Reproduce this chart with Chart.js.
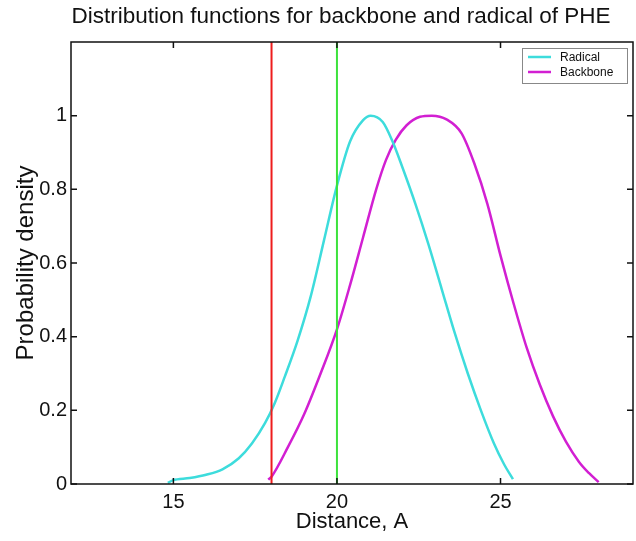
<!DOCTYPE html>
<html>
<head>
<meta charset="utf-8">
<script src="https://cdn.jsdelivr.net/npm/chart.js@4.4.0/dist/chart.umd.min.js"></script>
<style>
  html, body { margin: 0; padding: 0; background: #fff; }
  #chart { display: block; }
</style>
</head>
<body>
<canvas id="chart" width="636" height="541"></canvas>
<script>
// Chart data
const radicalX = [14.83, 14.98, 15.5, 16.0, 16.5, 17.0, 17.4, 17.8, 18.1, 18.4, 18.8, 19.2, 19.6, 20.0, 20.4, 20.8, 21.03, 21.4, 21.7, 22.0, 22.4, 22.8, 23.2, 23.6, 24.0, 24.4, 24.8, 25.1, 25.38];
const radicalY = [0.003, 0.01, 0.016, 0.025, 0.04, 0.07, 0.11, 0.165, 0.22, 0.29, 0.39, 0.51, 0.66, 0.81, 0.93, 0.988, 1.0, 0.983, 0.93, 0.86, 0.76, 0.65, 0.53, 0.41, 0.3, 0.2, 0.11, 0.055, 0.013];
const backboneX = [17.9, 18.0, 18.5, 19.0, 19.5, 20.0, 20.4, 20.8, 21.2, 21.5, 21.8, 22.13, 22.54, 22.9, 23.35, 23.81, 24.2, 24.6, 25.0, 25.4, 25.8, 26.2, 26.6, 27.0, 27.4, 27.7, 28.0];
const backboneY = [0.012, 0.02, 0.1, 0.19, 0.3, 0.42, 0.54, 0.67, 0.8, 0.88, 0.935, 0.974, 0.997, 1.0, 0.99, 0.952, 0.87, 0.76, 0.62, 0.49, 0.37, 0.27, 0.185, 0.115, 0.06, 0.03, 0.005];
const redLineX = 18;
const greenLineX = 20;
const xTicks = [15, 20, 25];
const yTicks = [0, 0.2, 0.4, 0.6, 0.8, 1];
const seriesNames = ["Radical", "Backbone"];

const toPoints = (xs, ys) => xs.map((x, i) => ({ x: x, y: ys[i] }));
const vLine = x => [{ x: x, y: 0 }, { x: x, y: 1.2 }];

const FONT = "'Liberation Sans', Arial, Helvetica, sans-serif";

// Matlab-ish frame with inward ticks on all four sides
const framePlugin = {
    id: "frame",
    afterDatasetsDraw(chart) {
        const { ctx, chartArea: a, scales } = chart;
        ctx.save();
        ctx.strokeStyle = "#111";
        ctx.lineWidth = 1.5;
        ctx.strokeRect(a.left, a.top, a.right - a.left, a.bottom - a.top);
        ctx.beginPath();
        xTicks.forEach(v => {
            const px = scales.x.getPixelForValue(v);
            ctx.moveTo(px, a.bottom); ctx.lineTo(px, a.bottom - 6);
            ctx.moveTo(px, a.top); ctx.lineTo(px, a.top + 6);
        });
        yTicks.forEach(v => {
            const py = scales.y.getPixelForValue(v);
            ctx.moveTo(a.left, py); ctx.lineTo(a.left + 6, py);
            ctx.moveTo(a.right, py); ctx.lineTo(a.right - 6, py);
        });
        ctx.stroke();
        ctx.restore();
    }
};

// Title and the small boxed legend in the top right corner
const labelsPlugin = {
    id: "labels",
    afterDraw(chart) {
        const { ctx } = chart;
        ctx.save();
        ctx.fillStyle = "#111";
        ctx.font = "22.5px " + FONT;
        ctx.textAlign = "center";
        ctx.textBaseline = "middle";
        ctx.fillText("Distribution functions for backbone and radical of PHE", 341, 17);

        const bx = 522, by = 48, bw = 105, bh = 35;
        ctx.fillStyle = "#fff";
        ctx.fillRect(bx, by, bw, bh);
        ctx.strokeStyle = "#888";
        ctx.lineWidth = 1;
        ctx.strokeRect(bx + 0.5, by + 0.5, bw, bh);
        ctx.font = "12px " + FONT;
        ctx.textAlign = "left";
        seriesNames.forEach((name, i) => {
            const ds = chart.data.datasets[i];
            const y = by + 9 + i * 15;
            ctx.strokeStyle = ds.borderColor;
            ctx.lineWidth = 2.5;
            ctx.beginPath();
            ctx.moveTo(bx + 6, y); ctx.lineTo(bx + 29, y);
            ctx.stroke();
            ctx.fillStyle = "#111";
            ctx.fillText(name, bx + 38, y + 1);
        });
        ctx.restore();
    }
};

const chart = new Chart(document.getElementById("chart"), {
    type: "line",
    data: {
        datasets: [
            { label: seriesNames[0], data: toPoints(radicalX, radicalY), borderColor: "#3ddcdc", borderWidth: 2.5, cubicInterpolationMode: "monotone", pointRadius: 0, order: 2 },
            { label: seriesNames[1], data: toPoints(backboneX, backboneY), borderColor: "#d21fd2", borderWidth: 2.5, cubicInterpolationMode: "monotone", pointRadius: 0, order: 2 },
            { label: "red", data: vLine(redLineX), borderColor: "#ee1c1c", borderWidth: 2, pointRadius: 0, order: 1 },
            { label: "green", data: vLine(greenLineX), borderColor: "#3ce23c", borderWidth: 2, pointRadius: 0, order: 1 }
        ]
    },
    options: {
        responsive: false,
        animation: false,
        layout: { padding: { top: 42, right: 3, left: 0, bottom: 0 } },
        plugins: { legend: { display: false }, tooltip: { enabled: false }, title: { display: false } },
        scales: {
            x: {
                type: "linear",
                min: 11.87,
                max: 29.05,
                grid: { display: false, drawTicks: false, tickLength: 0 },
                border: { display: false },
                afterBuildTicks: s => { s.ticks = xTicks.map(v => ({ value: v })); },
                afterFit: s => { s.height = 57; },
                ticks: { color: "#111", font: { family: FONT, size: 20 }, padding: 6 },
                title: { display: true, text: "Distance, A", color: "#111", font: { family: FONT, size: 22 }, padding: { top: 0, bottom: 6 } }
            },
            y: {
                type: "linear",
                min: 0,
                max: 1.2,
                grid: { display: false, drawTicks: false, tickLength: 0 },
                border: { display: false },
                afterBuildTicks: s => { s.ticks = yTicks.map(v => ({ value: v })); },
                afterFit: s => { s.width = 71; },
                ticks: { color: "#111", font: { family: FONT, size: 20 }, padding: 4, callback: v => String(v) },
                title: { display: true, text: "Probability density", color: "#111", font: { family: FONT, size: 24 }, padding: { top: 12, bottom: 12 } }
            }
        }
    },
    plugins: [framePlugin, labelsPlugin]
});
</script>
</body>
</html>
